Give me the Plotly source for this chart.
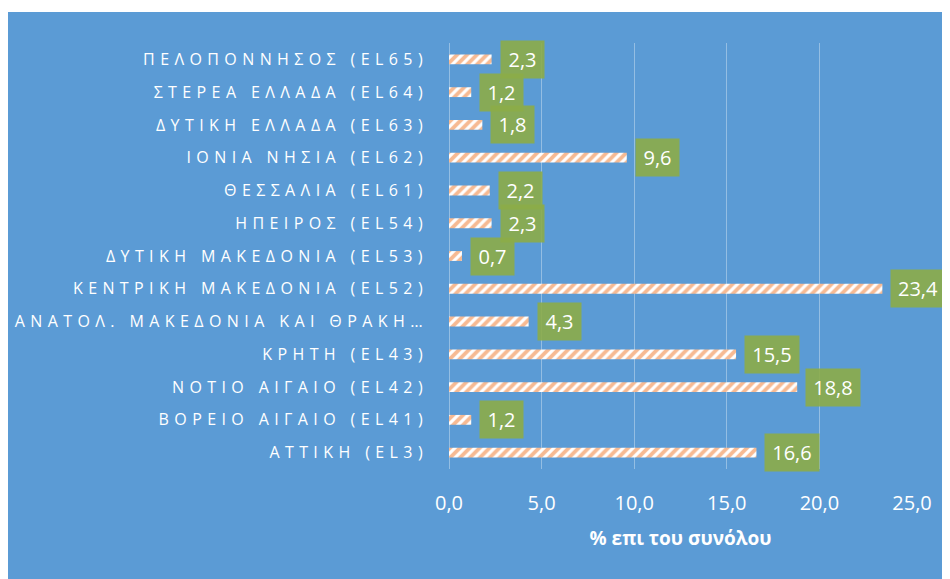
import plotly.graph_objects as go

categories = [
    "ΑΤΤΙΚΗ (EL3)",
    "ΒΟΡΕΙΟ ΑΙΓΑΙΟ (EL41)",
    "ΝΟΤΙΟ ΑΙΓΑΙΟ (EL42)",
    "ΚΡΗΤΗ (EL43)",
    "ΑΝΑΤΟΛ. ΜΑΚΕΔΟΝΙΑ ΚΑΙ ΘΡΑΚΗ…",
    "ΚΕΝΤΡΙΚΗ ΜΑΚΕΔΟΝΙΑ (EL52)",
    "ΔΥΤΙΚΗ ΜΑΚΕΔΟΝΙΑ (EL53)",
    "ΗΠΕΙΡΟΣ (EL54)",
    "ΘΕΣΣΑΛΙΑ (EL61)",
    "ΙΟΝΙΑ ΝΗΣΙΑ (EL62)",
    "ΔΥΤΙΚΗ ΕΛΛΑΔΑ (EL63)",
    "ΣΤΕΡΕΑ ΕΛΛΑΔΑ (EL64)",
    "ΠΕΛΟΠΟΝΝΗΣΟΣ (EL65)",
]
values = [16.6, 1.2, 18.8, 15.5, 4.3, 23.4, 0.7, 2.3, 2.2, 9.6, 1.8, 1.2, 2.3]
x_tickvals = [0, 5, 10, 15, 20, 25]
x_ticktext = ["0,0", "5,0", "10,0", "15,0", "20,0", "25,0"]
x_title = "% επι του συνόλου"

BLUE = "#5B9BD5"
GRID = "rgba(255,255,255,0.35)"
FONT = "Open Sans, Noto Sans, sans-serif"

fig = go.Figure()
fig.add_trace(go.Bar(
    x=values, y=categories, orientation="h",
    marker=dict(
        color="white",
        line=dict(width=0),
        pattern=dict(shape="/", fgcolor="#EE7628", bgcolor="white", size=7, solidity=0.55),
    ),
    width=0.3,
    hoverinfo="skip",
))

def fmt(v):
    return f"{v:.1f}".replace(".", ",")

for c, v in zip(categories, values):
    t = fmt(v)
    fig.add_annotation(
        x=v, y=c, xref="x", yref="y",
        text=t, showarrow=False,
        xanchor="left", yanchor="middle", xshift=8,
        font=dict(family=FONT, size=20, color="white"),
        bgcolor="rgba(140,172,72,0.9)",
        width=11 * len(t) + 4, height=31, borderpad=3,
        align="center",
    )

ticktext = [f'<span style="letter-spacing:5.4px">{c}</span>' for c in categories]

# page has an 8px body margin; figure sized to fit the 950x579 window
W, H = 942, 571
ml, mt = 441, 35
pw, ph = 463, 426
mr = W - ml - pw
mb = H - mt - ph

fig.add_shape(
    type="rect", xref="paper", yref="paper",
    x0=-ml / pw - 0.01, x1=1.2, y0=-0.4, y1=(ph + mt - 4) / ph,
    fillcolor=BLUE, line=dict(width=0), layer="below",
)

fig.update_layout(
    width=W, height=H,
    margin=dict(l=ml, r=mr, t=mt, b=mb, autoexpand=False),
    paper_bgcolor="white", plot_bgcolor=BLUE,
    showlegend=False,
    bargap=0.7,
    font=dict(family=FONT, color="white"),
    xaxis=dict(
        automargin=False,
        range=[0, 25], tickvals=x_tickvals, ticktext=x_ticktext,
        showgrid=True, gridcolor=GRID, gridwidth=1,
        zeroline=True, zerolinecolor=GRID, zerolinewidth=1,
        showline=False, ticks="",
        tickfont=dict(family=FONT, size=20, color="white"),
        ticklabelstandoff=20,
        title=dict(text="<b>" + x_title + "</b>", font=dict(family=FONT, size=19, color="white"), standoff=16),
        fixedrange=True,
    ),
    yaxis=dict(
        automargin=False,
        categoryorder="array", categoryarray=categories,
        tickmode="array", tickvals=categories, ticktext=ticktext,
        showgrid=False, zeroline=False, showline=False, ticks="",
        tickfont=dict(family=FONT, size=16, color="white"),
        ticklabelstandoff=20,
        range=[-0.5, len(categories) - 0.5],
        fixedrange=True,
    ),
)

fig.write_html("out.html")
